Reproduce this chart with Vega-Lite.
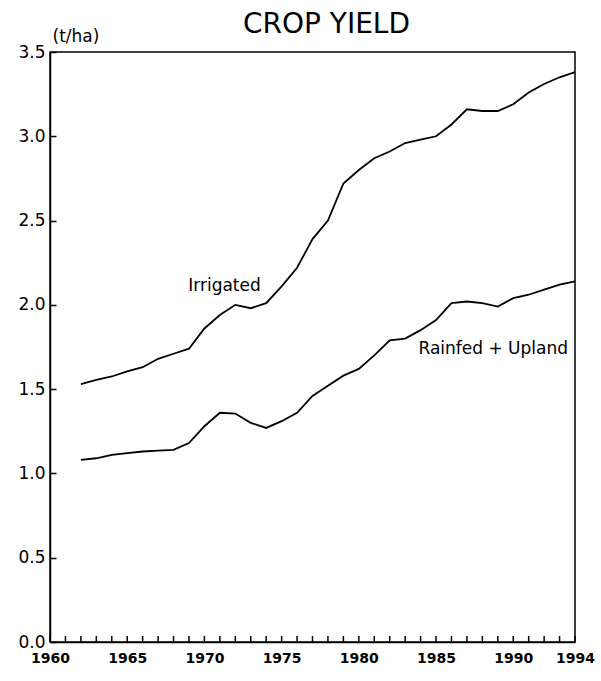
{
  "$schema": "https://vega.github.io/schema/vega-lite/v6.json",
  "autosize": {"type": "none"},
  "padding": {"left": 50, "top": 52, "right": 26, "bottom": 39},
  "width": 525,
  "height": 590,
  "background": "white",
  "config": {"view": {"stroke": "black", "strokeWidth": 1.5}, "font": "DejaVu Sans"},
  "title": {"text": "CROP YIELD", "font": "DejaVu Sans", "fontSize": 28, "fontWeight": "normal", "anchor": "middle", "frame": "group", "dx": 14, "dy": 16, "color": "black"},
  "datasets": {
    "yield": [
      {"series": "Irrigated", "year": 1962, "value": 1.53},
      {"series": "Irrigated", "year": 1963, "value": 1.555},
      {"series": "Irrigated", "year": 1964, "value": 1.575},
      {"series": "Irrigated", "year": 1965, "value": 1.605},
      {"series": "Irrigated", "year": 1966, "value": 1.63},
      {"series": "Irrigated", "year": 1967, "value": 1.68},
      {"series": "Irrigated", "year": 1968, "value": 1.71},
      {"series": "Irrigated", "year": 1969, "value": 1.74},
      {"series": "Irrigated", "year": 1970, "value": 1.86},
      {"series": "Irrigated", "year": 1971, "value": 1.94},
      {"series": "Irrigated", "year": 1972, "value": 2.0},
      {"series": "Irrigated", "year": 1973, "value": 1.98},
      {"series": "Irrigated", "year": 1974, "value": 2.01},
      {"series": "Irrigated", "year": 1975, "value": 2.11},
      {"series": "Irrigated", "year": 1976, "value": 2.22},
      {"series": "Irrigated", "year": 1977, "value": 2.39},
      {"series": "Irrigated", "year": 1978, "value": 2.5},
      {"series": "Irrigated", "year": 1979, "value": 2.72},
      {"series": "Irrigated", "year": 1980, "value": 2.8},
      {"series": "Irrigated", "year": 1981, "value": 2.87},
      {"series": "Irrigated", "year": 1982, "value": 2.91},
      {"series": "Irrigated", "year": 1983, "value": 2.96},
      {"series": "Irrigated", "year": 1984, "value": 2.98},
      {"series": "Irrigated", "year": 1985, "value": 3.0},
      {"series": "Irrigated", "year": 1986, "value": 3.07},
      {"series": "Irrigated", "year": 1987, "value": 3.16},
      {"series": "Irrigated", "year": 1988, "value": 3.15},
      {"series": "Irrigated", "year": 1989, "value": 3.15},
      {"series": "Irrigated", "year": 1990, "value": 3.19},
      {"series": "Irrigated", "year": 1991, "value": 3.26},
      {"series": "Irrigated", "year": 1992, "value": 3.31},
      {"series": "Irrigated", "year": 1993, "value": 3.35},
      {"series": "Irrigated", "year": 1994, "value": 3.38},
      {"series": "Rainfed + Upland", "year": 1962, "value": 1.08},
      {"series": "Rainfed + Upland", "year": 1963, "value": 1.09},
      {"series": "Rainfed + Upland", "year": 1964, "value": 1.11},
      {"series": "Rainfed + Upland", "year": 1965, "value": 1.12},
      {"series": "Rainfed + Upland", "year": 1966, "value": 1.13},
      {"series": "Rainfed + Upland", "year": 1967, "value": 1.135},
      {"series": "Rainfed + Upland", "year": 1968, "value": 1.14},
      {"series": "Rainfed + Upland", "year": 1969, "value": 1.18},
      {"series": "Rainfed + Upland", "year": 1970, "value": 1.28},
      {"series": "Rainfed + Upland", "year": 1971, "value": 1.36},
      {"series": "Rainfed + Upland", "year": 1972, "value": 1.355},
      {"series": "Rainfed + Upland", "year": 1973, "value": 1.3},
      {"series": "Rainfed + Upland", "year": 1974, "value": 1.27},
      {"series": "Rainfed + Upland", "year": 1975, "value": 1.31},
      {"series": "Rainfed + Upland", "year": 1976, "value": 1.36},
      {"series": "Rainfed + Upland", "year": 1977, "value": 1.46},
      {"series": "Rainfed + Upland", "year": 1978, "value": 1.52},
      {"series": "Rainfed + Upland", "year": 1979, "value": 1.58},
      {"series": "Rainfed + Upland", "year": 1980, "value": 1.62},
      {"series": "Rainfed + Upland", "year": 1981, "value": 1.7},
      {"series": "Rainfed + Upland", "year": 1982, "value": 1.79},
      {"series": "Rainfed + Upland", "year": 1983, "value": 1.8},
      {"series": "Rainfed + Upland", "year": 1984, "value": 1.85},
      {"series": "Rainfed + Upland", "year": 1985, "value": 1.91},
      {"series": "Rainfed + Upland", "year": 1986, "value": 2.01},
      {"series": "Rainfed + Upland", "year": 1987, "value": 2.02},
      {"series": "Rainfed + Upland", "year": 1988, "value": 2.01},
      {"series": "Rainfed + Upland", "year": 1989, "value": 1.99},
      {"series": "Rainfed + Upland", "year": 1990, "value": 2.04},
      {"series": "Rainfed + Upland", "year": 1991, "value": 2.06},
      {"series": "Rainfed + Upland", "year": 1992, "value": 2.09},
      {"series": "Rainfed + Upland", "year": 1993, "value": 2.12},
      {"series": "Rainfed + Upland", "year": 1994, "value": 2.14}
    ],
    "years": [
      {"year": 1960}, {"year": 1961}, {"year": 1962}, {"year": 1963}, {"year": 1964},
      {"year": 1965}, {"year": 1966}, {"year": 1967}, {"year": 1968}, {"year": 1969},
      {"year": 1970}, {"year": 1971}, {"year": 1972}, {"year": 1973}, {"year": 1974},
      {"year": 1975}, {"year": 1976}, {"year": 1977}, {"year": 1978}, {"year": 1979},
      {"year": 1980}, {"year": 1981}, {"year": 1982}, {"year": 1983}, {"year": 1984},
      {"year": 1985}, {"year": 1986}, {"year": 1987}, {"year": 1988}, {"year": 1989},
      {"year": 1990}, {"year": 1991}, {"year": 1992}, {"year": 1993}, {"year": 1994}
    ]
  },
  "layer": [
    {
      "data": {"name": "yield"},
      "mark": {"type": "line", "color": "black", "strokeWidth": 1.8},
      "encoding": {
        "x": {
          "field": "year", "type": "quantitative",
          "scale": {"domain": [1960, 1994], "nice": false, "zero": false},
          "axis": {
            "values": [1960, 1965, 1970, 1975, 1980, 1985, 1990, 1994],
            "format": "d",
            "labelOverlap": false,
            "labelFlush": false,
            "ticks": false,
            "domainColor": "black",
            "domainWidth": 1.5,
            "labelFont": "DejaVu Sans",
            "labelFontSize": 14,
            "labelFontWeight": "bold",
            "labelColor": "black",
            "labelPadding": 9,
            "grid": false,
            "title": null
          }
        },
        "y": {
          "field": "value", "type": "quantitative",
          "scale": {"domain": [0, 3.5], "nice": false},
          "axis": {
            "values": [0, 0.5, 1, 1.5, 2, 2.5, 3, 3.5],
            "format": ".1f",
            "labelOverlap": false,
            "labelFlush": false,
            "tickSize": -6,
            "tickColor": "black",
            "tickWidth": 1.5,
            "domainColor": "black",
            "domainWidth": 1.5,
            "labelFont": "DejaVu Sans",
            "labelFontSize": 17,
            "labelColor": "black",
            "labelPadding": 11,
            "grid": false,
            "title": "(t/ha)",
            "titleAngle": 0,
            "titleX": 2,
            "titleY": -11,
            "titleAlign": "left",
            "titleBaseline": "alphabetic",
            "titleFont": "DejaVu Sans",
            "titleFontSize": 17,
            "titleFontWeight": "normal",
            "titleColor": "black"
          }
        },
        "detail": {"field": "series", "type": "nominal"}
      }
    },
    {
      "data": {"name": "years"},
      "mark": {"type": "rule", "color": "black", "strokeWidth": 1.5},
      "encoding": {
        "x": {"field": "year", "type": "quantitative"},
        "y": {"datum": 0, "type": "quantitative"},
        "y2": {"datum": 0.036}
      }
    },
    {
      "data": {"values": [{"series": "Irrigated"}]},
      "mark": {"type": "text", "font": "DejaVu Sans", "fontSize": 17, "color": "black", "align": "center", "baseline": "middle"},
      "encoding": {
        "x": {"datum": 1971.3, "type": "quantitative"},
        "y": {"datum": 2.11, "type": "quantitative"},
        "text": {"field": "series", "type": "nominal"}
      }
    },
    {
      "data": {"values": [{"series": "Rainfed + Upland"}]},
      "mark": {"type": "text", "font": "DejaVu Sans", "fontSize": 17, "color": "black", "align": "right", "baseline": "middle"},
      "encoding": {
        "x": {"datum": 1993.55, "type": "quantitative"},
        "y": {"datum": 1.74, "type": "quantitative"},
        "text": {"field": "series", "type": "nominal"}
      }
    }
  ]
}
